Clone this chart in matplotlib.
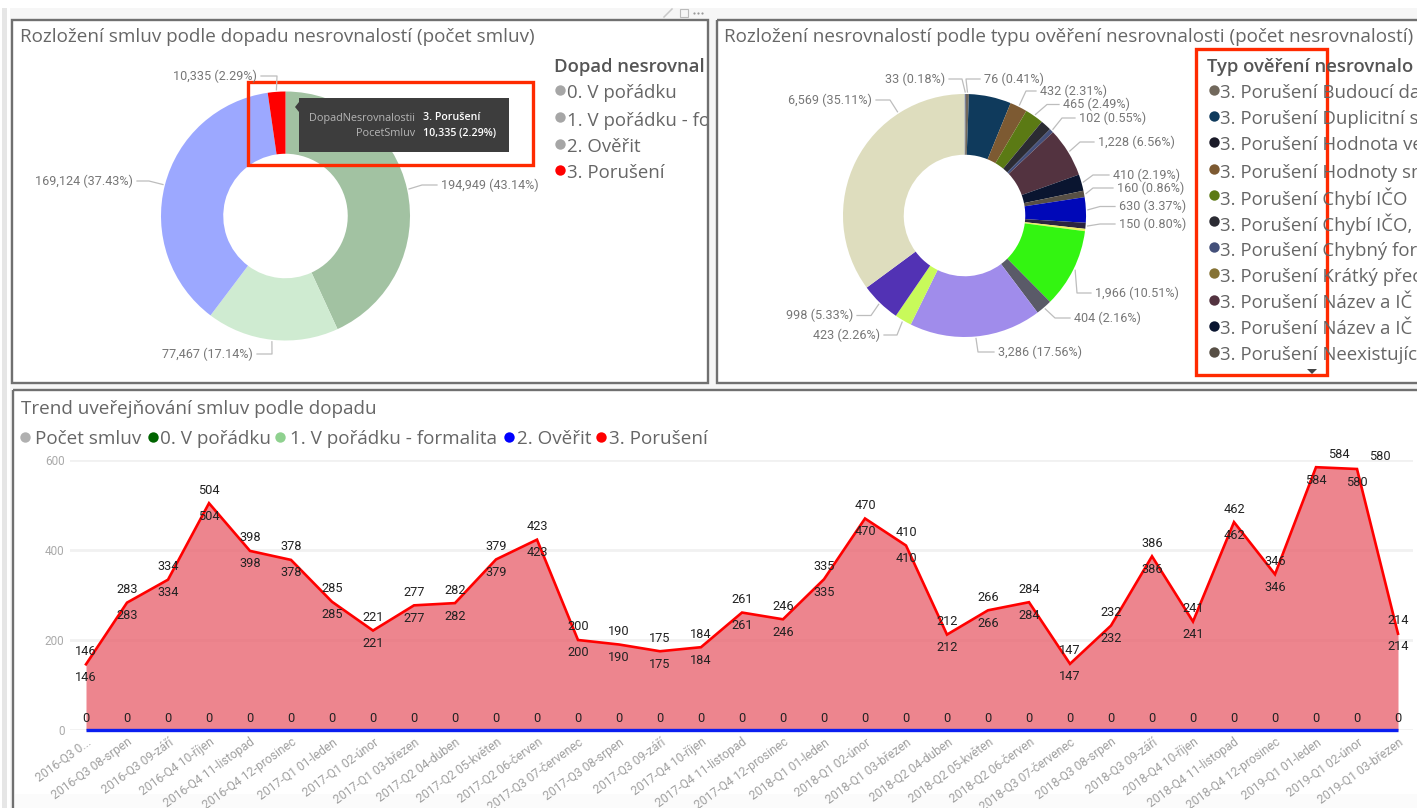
import math
import matplotlib
matplotlib.use("Agg")
import matplotlib.pyplot as plt
from matplotlib.patches import Rectangle, Polygon
from matplotlib.transforms import Bbox

W, H = 1417, 808
SANS = ["Open Sans", "DejaVu Sans"]
NARROW = ["Liberation Sans Narrow", "Roboto", "DejaVu Sans"]

# ---------- data ----------
impact_values = [194949, 77467, 169124, 10335]
impact_pcts = [43.14, 17.14, 37.43, 2.29]
impact_colors = ["#A2C2A2", "#CFEBD1", "#9CA8FF", "#FF0000"]
impact_legend = ["0. V pořádku", "1. V pořádku - fo", "2. Ověřit", "3. Porušení"]
impact_legend_colors = ["#A6A6A6", "#A6A6A6", "#A6A6A6", "#FF0000"]

type_values = [33, 76, 1050, 432, 465, 270, 102, 1228, 410, 160, 630, 150, 58,
               1966, 404, 3286, 423, 998, 6569]
type_pcts = [0.18, 0.41, None, 2.31, 2.49, None, 0.55, 6.56, 2.19, 0.86, 3.37,
             0.80, None, 10.51, 2.16, 17.56, 2.26, 5.33, 35.11]
type_colors = ["#55648F", "#71685C", "#0F3A5C", "#7D5A32", "#5B7A14", "#2B2B33",
               "#44507A", "#533340", "#0A1530", "#574F45", "#0008B8", "#2A2440",
               "#EDF060", "#33F511", "#5A5A68", "#A08CEB", "#C8FA5A", "#5232B4",
               "#DEDDBE"]
type_legend = ["3. Porušení Budoucí da", "3. Porušení Duplicitní s",
               "3. Porušení Hodnota ve", "3. Porušení Hodnoty sm",
               "3. Porušení Chybí IČO", "3. Porušení Chybí IČO,",
               "3. Porušení Chybný for", "3. Porušení Krátký přec",
               "3. Porušení Název a IČ", "3. Porušení Název a IČ",
               "3. Porušení Neexistujíc"]
type_legend_colors = ["#71685C", "#0F3A5C", "#1A1A28", "#7D5A32", "#5B7A14",
                      "#2B2B33", "#44507A", "#857234", "#533340", "#0A1530",
                      "#574F45"]

months = ["2016-Q3 0...", "2016-Q3 08-srpen", "2016-Q3 09-září", "2016-Q4 10-říjen",
          "2016-Q4 11-listopad", "2016-Q4 12-prosinec", "2017-Q1 01-leden",
          "2017-Q1 02-únor", "2017-Q1 03-březen", "2017-Q2 04-duben",
          "2017-Q2 05-květen", "2017-Q2 06-červen", "2017-Q3 07-červenec",
          "2017-Q3 08-srpen", "2017-Q3 09-září", "2017-Q4 10-říjen",
          "2017-Q4 11-listopad", "2017-Q4 12-prosinec", "2018-Q1 01-leden",
          "2018-Q1 02-únor", "2018-Q1 03-březen", "2018-Q2 04-duben",
          "2018-Q2 05-květen", "2018-Q2 06-červen", "2018-Q3 07-červenec",
          "2018-Q3 08-srpen", "2018-Q3 09-září", "2018-Q4 10-říjen",
          "2018-Q4 11-listopad", "2018-Q4 12-prosinec", "2019-Q1 01-leden",
          "2019-Q1 02-únor", "2019-Q1 03-březen"]
contracts = [146, 283, 334, 504, 398, 378, 285, 221, 277, 282, 379, 423, 200, 190,
             175, 184, 261, 246, 335, 470, 410, 212, 266, 284, 147, 232, 386, 241,
             462, 346, 584, 580, 214]
violations = [146, 283, 334, 504, 398, 378, 285, 221, 277, 282, 379, 423, 200, 190,
              175, 184, 261, 246, 335, 470, 410, 212, 266, 284, 147, 232, 386, 241,
              462, 346, 584, 580, 214]
to_verify = [0] * 33
trend_legend = ["Počet smluv", "0. V pořádku", "1. V pořádku - formalita", "2. Ověřit", "3. Porušení"]
trend_legend_colors = ["#B0B0B0", "#006400", "#8FD18F", "#0000FF", "#FF0000"]
y_ticks = [0, 200, 400, 600]

# ---------- canvas ----------
fig = plt.figure(figsize=(W / 100, H / 100), dpi=100, facecolor="white")


def px_axes(x0, y0, x1, y1, **kw):
    return fig.add_axes([x0 / W, 1 - y1 / H, (x1 - x0) / W, (y1 - y0) / H], **kw)


back = px_axes(0, 0, W, H, zorder=0)
back.set_xlim(0, W); back.set_ylim(H, 0); back.axis("off")
back.add_patch(Rectangle((2, 8), 5, H - 8, fc="#E6E6E6", ec="none"))
back.add_patch(Rectangle((10, 8), W - 10, H - 8, fc="#F6F6F6", ec="none"))
for x0, y0, x1, y1 in [(12, 20, 708, 383), (717, 20, W + 5, 383), (13, 390, W + 5, H + 5)]:
    back.add_patch(Rectangle((x0, y0), x1 - x0, y1 - y0, fc="white", ec="none"))
back.add_patch(Rectangle((15, 794), W, 14, fc="#FBFBFB", ec="none"))

top = px_axes(0, 0, W, H, zorder=10)
top.set_xlim(0, W); top.set_ylim(H, 0); top.axis("off"); top.patch.set_alpha(0)
for x0, y0, x1, y1 in [(12, 20, 708, 383), (717, 20, W + 5, 383), (13, 390, W + 5, H + 5)]:
    top.add_patch(Rectangle((x0, y0), x1 - x0, y1 - y0, fc="none", ec="#707070", lw=1.7))


def clip_text(x, y, s, xmax, **kw):
    t = top.text(x, y + 1.5, s, va="center", ha="left", **kw)
    t.set_clip_box(Bbox([[0, 0], [xmax, H]]))
    t.set_clip_on(True)
    return t


# ---------- donuts ----------
def donut(cx, cy, r, values, colors):
    ax = px_axes(cx - r, cy - r, cx + r, cy + r, zorder=2)
    ax.pie(values, colors=colors, startangle=90, counterclock=False, radius=1,
           wedgeprops=dict(width=0.5, linewidth=0))
    ax.set_xlim(-1, 1); ax.set_ylim(-1, 1)


def leaders(cx, cy, r, values, pcts, places):
    total = sum(values)
    run = 0
    k = 0
    for v, p in zip(values, pcts):
        place = places[k] if p is not None else None
        frac = place[5] if place is not None and len(place) > 5 else 0.5
        mid = (run + v * frac) / total * 2 * math.pi
        run += v
        if p is None:
            continue
        xt, yt, ha, ex, ey = place[:5]
        k += 1
        rx = cx + (r + 2) * math.sin(mid)
        ry = cy - (r + 2) * math.cos(mid)
        xe = xt + 4 if ha == "right" else xt - 4
        top.plot([rx, ex, xe], [ry, ey, yt], color="#BDBDBD", lw=0.9)
        top.text(xt, yt, f"{v:,} ({p:.2f}%)", ha=ha, va="center", color="#777777",
                 family=NARROW, fontsize=9.1)


donut(285.5, 216, 124.5, impact_values, impact_colors)
donut(964.5, 215.5, 121.5, type_values, type_colors)

leaders(285.5, 216, 124.5, impact_values, impact_pcts, [
    (441, 185, "left", 422, 185), (253, 354, "right", 272, 354),
    (133, 181, "right", 149, 181), (257, 76, "right", 277, 76)])
leaders(964.5, 215.5, 121.5, type_values, type_pcts, [
    (945, 79, "right", 962, 79), (984, 79, "left", 966, 79),
    (1040, 91, "left", 1026, 91), (1063, 104.5, "left", 1047, 104.5),
    (1079, 118, "left", 1062, 118), (1098, 142, "left", 1080, 142),
    (1113, 175, "left", 1093, 175), (1117, 188, "left", 1093, 188),
    (1119, 206.5, "left", 1100, 206.5), (1119, 224, "left", 1100, 224),
    (1095, 293, "left", 1077, 293), (1074, 318, "left", 1055, 318),
    (998, 352, "left", 978, 352), (880, 335, "right", 897, 335),
    (853, 315.5, "right", 871, 315.5), (872, 100, "right", 890, 100, 0.74)])

# ---------- titles and legends ----------
title_kw = dict(color="#666666", family=SANS, fontsize=13.6)
clip_text(20, 36, "Rozložení smluv podle dopadu nesrovnalostí (počet smluv)", W, **title_kw)
clip_text(724, 36, "Rozložení nesrovnalostí podle typu ověření nesrovnalosti (počet nesrovnalostí)", W, **title_kw)
clip_text(21, 407, "Trend uveřejňování smluv podle dopadu", W, **title_kw)

leg_kw = dict(color="#666666", family=SANS, fontsize=13.4)
head_kw = dict(color="#555555", family=SANS, fontsize=13.3, fontweight="semibold")
clip_text(554, 65, "Dopad nesrovnal", 707, **head_kw)
for y, s, c in zip([92, 119, 146, 172], impact_legend, impact_legend_colors):
    top.scatter([560], [y - 2], s=56, color=c, lw=0)
    clip_text(567, y, s, 707, **leg_kw)

clip_text(1207, 65, "Typ ověření nesrovnalo", W, **head_kw)
for y, s, c in zip([92, 118, 144, 171, 197, 223, 249, 275, 302, 328, 354], type_legend, type_legend_colors):
    top.scatter([1214], [y - 2], s=56, color=c, lw=0)
    clip_text(1220, y, s, W, **leg_kw)

for x_dot, x_txt, s, c in zip([25, 153, 280, 509, 601], [35, 160, 290, 517, 609], trend_legend, trend_legend_colors):
    top.scatter([x_dot], [437], s=56, color=c, lw=0)
    clip_text(x_txt, 438, s, W, color="#666666", family=SANS, fontsize=13.6)

# red highlight boxes
top.add_patch(Rectangle((248, 82), 285, 83, fc="none", ec="#FF2A00", lw=2.4))
top.add_patch(Rectangle((1196, 49), 131, 326, fc="none", ec="#FF2A00", lw=2.4))
top.add_patch(Polygon([(1307, 369), (1317, 369), (1312, 374)], fc="#444444", ec="none"))

# tooltip
top.add_patch(Rectangle((299, 98), 210, 54, fc="#3D3D3D", ec="none"))
top.add_patch(Polygon([(299, 102), (295, 107), (299, 112)], fc="#3D3D3D", ec="none"))
for y, a, b in [(118, "DopadNesrovnalostii", "3. Porušení"), (134, "PocetSmluv", "10,335 (2.29%)")]:
    top.text(415, y, a, ha="right", va="center", color="#B5B5B5", family=SANS, fontsize=7.8)
    top.text(423, y, b, ha="left", va="center", color="white", family=SANS, fontsize=7.7, fontweight="semibold")

# visual header icons
top.add_patch(Rectangle((680, 9), 8, 8, fc="none", ec="#BBBBBB", lw=0.8))
top.plot([664, 672], [17, 9], color="#C8C8C8", lw=1.1)
top.scatter([694, 698, 702], [13, 13, 13], s=2.5, color="#999999", lw=0)

# ---------- trend ----------
ax = px_axes(70, 460, 1413, 730, zorder=3)
ax.patch.set_alpha(0)
idx = list(range(len(months)))
ax.set_xlim(-16 / 41, 32 + 15 / 41)
ax.set_ylim(0, 600)
for s in ax.spines.values():
    s.set_visible(False)
ax.set_yticks(y_ticks)
ax.set_yticklabels([str(v) for v in y_ticks], color="#AAAAAA", family=NARROW, fontsize=8.5)
ax.set_xticks(idx)
ax.set_xticklabels(months, rotation=36, ha="right", rotation_mode="anchor",
                   color="#A0A0A0", family=NARROW, fontsize=8.7)
ax.tick_params(length=0, axis="both", pad=4)
ax.grid(axis="y", color="#F1F1F1", lw=2)
ax.set_axisbelow(True)
ax.fill_between(idx, 0, contracts, color="#E9636E", alpha=0.78, lw=0, zorder=2)
ax.plot(idx, violations, color="#FF0000", lw=1.9, zorder=3, clip_on=False, solid_joinstyle="miter")
ax.plot(idx, to_verify, color="#0A1EF0", lw=2.4, zorder=4, clip_on=False, solid_capstyle="butt")

shift_top = {30: 23, 31: 23}
for i, (a, b, z) in enumerate(zip(contracts, violations, to_verify)):
    for val, dx, dy in [(a, shift_top.get(i, 0), 13), (b, 0, -13), (z, 0, 12)]:
        ax.annotate(str(val), (i, val), xytext=(dx, dy), textcoords="offset pixels",
                    ha="center", va="center", color="#222222", family=NARROW,
                    fontsize=9.2, zorder=5, annotation_clip=False)

fig.savefig("out.png", dpi=100, facecolor=fig.get_facecolor())
